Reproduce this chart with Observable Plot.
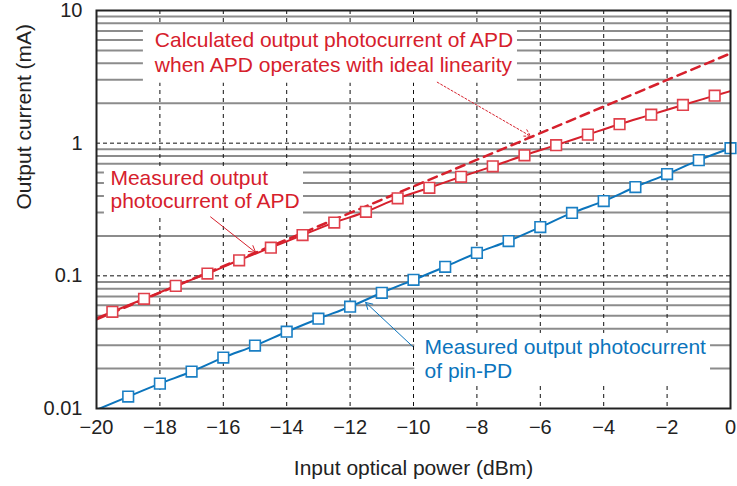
<!DOCTYPE html>
<html><head><meta charset="utf-8">
<script src="https://cdn.jsdelivr.net/npm/d3@7"></script>
<script src="https://cdn.jsdelivr.net/npm/@observablehq/plot@0.6"></script>
<style>
body{margin:0;background:#fff;}
#chart svg{display:block;}
</style>
</head><body><div id="chart"></div>
<script>
// ---- Data ----
const apdPower = [-19.5,-18.5,-17.5,-16.5,-15.5,-14.5,-13.5,-12.5,-11.5,-10.5,-9.5,-8.5,-7.5,-6.5,-5.5,-4.5,-3.5,-2.5,-1.5,-0.5];
const apdCurrent = [0.0536,0.0671,0.084,0.104,0.131,0.163,0.203,0.252,0.304,0.384,0.461,0.558,0.669,0.81,0.966,1.16,1.39,1.64,1.94,2.28];
const apdLineEndPower = [-20, 0];
const apdLineEndCurrent = [0.048, 2.47];

const pinPower = [-19,-18,-17,-16,-15,-14,-13,-12,-11,-10,-9,-8,-7,-6,-5,-4,-3,-2,-1,0];
const pinCurrent = [0.0123,0.0154,0.019,0.0242,0.0298,0.0379,0.0475,0.0585,0.0745,0.0933,0.117,0.149,0.183,0.233,0.298,0.366,0.467,0.585,0.745,0.917];
const pinLineStartPower = -20;
const pinLineStartCurrent = 0.00977;

const idealPower = [-20, 0];
const idealCurrent = [0.047, 4.75];

const xTicks = [-20,-18,-16,-14,-12,-10,-8,-6,-4,-2,0];
const yTicks = [0.01, 0.1, 1, 10];
const yTickLabels = ["0.01", "0.1", "1", "10"];
const minorMultipliers = [2,3,4,5,6,7,8,9];
const minorDecades = [0.01, 0.1, 1];

const xLabel = "Input optical power (dBm)";
const yLabel = "Output current (mA)";

const RED = "#d6202c";
const BLUE = "#0b74bc";

// annotation texts and anchors (data units)
const noteText = ["Calculated output photocurrent of APD", "when APD operates with ideal linearity",
                  "Measured output", "photocurrent of APD",
                  "Measured output photocurrent", "of pin-PD"];
const noteX = [-18.16, -18.16, -19.56, -19.56, -9.65, -9.65];
const noteY = [5.95, 3.86, 0.548, 0.362, 0.0288, 0.0192];
const noteColor = [RED, RED, RED, RED, BLUE, BLUE];

// white boxes behind annotations
const boxX1 = [-18.52, -19.75, -9.96];
const boxX2 = [-6.72, -13.47, -0.63];
const boxY1 = [2.83, 0.29, 0.0151];
const boxY2 = [7.6, 0.66, 0.0368];

// leader arrows
const arrowX1 = [-9.25, -16.40, -10.03];
const arrowY1 = [2.88, 0.278, 0.0294];
const arrowX2 = [-6.31, -14.98, -11.51];
const arrowY2 = [1.13, 0.15, 0.063];
const arrowColor = [RED, RED, BLUE];
const arrowDash = ["2,2", null, null];

// ---- Build tables ----
const apd = apdPower.map((x, i) => ({x, y: apdCurrent[i]}));
const apdLine = [{x: apdLineEndPower[0], y: apdLineEndCurrent[0]}, ...apd, {x: apdLineEndPower[1], y: apdLineEndCurrent[1]}];
const pin = pinPower.map((x, i) => ({x, y: pinCurrent[i]}));
const pinLine = [{x: pinLineStartPower, y: pinLineStartCurrent}, ...pin];
const ideal = idealPower.map((x, i) => ({x, y: idealCurrent[i]}));
const minors = minorDecades.flatMap(d => minorMultipliers.map(m => +(m * d).toPrecision(3)));
const notes = noteText.map((t, i) => ({t, x: noteX[i], y: noteY[i], c: noteColor[i]}));
const boxes = boxX1.map((x1, i) => ({x1, x2: boxX2[i], y1: boxY1[i], y2: boxY2[i]}));
const arrows = arrowX1.map((x1, i) => ({x1, y1: arrowY1[i], x2: arrowX2[i], y2: arrowY2[i], c: arrowColor[i], d: arrowDash[i]}));

const FONT = "'Liberation Sans', Arial, Helvetica, sans-serif";

const chart = Plot.plot({
  width: 737,
  height: 486,
  marginLeft: 96,
  marginRight: 7,
  marginTop: 10,
  marginBottom: 78,
  style: {fontFamily: FONT, fontSize: "20px", color: "#222", background: "#fff"},
  x: {domain: [-20, 0]},
  y: {type: "log", domain: [0.01, 10]},
  marks: [
    Plot.ruleY(minors, {stroke: "#8c8c8c", strokeWidth: 2}),
    Plot.ruleY([0.1, 1], {stroke: "#111", strokeWidth: 1, strokeDasharray: "4,3"}),
    Plot.ruleX(xTicks.filter(d => d > -20 && d < 0), {stroke: "#111", strokeWidth: 1, strokeDasharray: "4,4"}),
    Plot.rect(boxes, {x1: "x1", x2: "x2", y1: "y1", y2: "y2", fill: "#fff"}),
    Plot.text(notes, {x: "x", y: "y", text: "t", fill: "c", textAnchor: "start", fontSize: 21, fontFamily: FONT}),
    ...arrows.map(a => Plot.arrow([a], {x1: "x1", y1: "y1", x2: "x2", y2: "y2", stroke: a.c, strokeWidth: 1, headLength: 11, strokeDasharray: a.d || undefined})),
    Plot.line(ideal, {x: "x", y: "y", stroke: RED, strokeWidth: 2.5, strokeDasharray: "9,6", clip: true}),
    Plot.line(apdLine, {x: "x", y: "y", stroke: RED, strokeWidth: 2, curve: "monotone-x", clip: true}),
    Plot.line(pinLine, {x: "x", y: "y", stroke: BLUE, strokeWidth: 2, curve: "monotone-x", clip: true}),
    Plot.dot(apd, {x: "x", y: "y", symbol: "square", r: 6, fill: "#fff", stroke: "#e0404b", strokeWidth: 1.6}),
    Plot.dot(pin, {x: "x", y: "y", symbol: "square", r: 6, fill: "#fff", stroke: "#1a7fc4", strokeWidth: 1.6}),
    Plot.frame({stroke: "#222", strokeWidth: 2}),
    Plot.axisX({ticks: xTicks, tickSize: 0, tickPadding: 11, tickFormat: d => d < 0 ? "\u2212" + (-d) : String(d), label: null, fontSize: 20}),
    Plot.axisY({ticks: yTicks, tickSize: 0, tickPadding: 14, tickFormat: d => yTickLabels[yTicks.indexOf(d)], label: null, fontSize: 20}),
    Plot.text([xLabel], {frameAnchor: "bottom", dy: 60, text: d => d, fill: "#222", fontSize: 21, lineAnchor: "middle"}),
    Plot.text([yLabel], {frameAnchor: "left", dx: -72, rotate: -90, text: d => d, fill: "#222", fontSize: 21, lineAnchor: "middle"})
  ]
});
document.getElementById("chart").appendChild(chart);
</script>
</body></html>
